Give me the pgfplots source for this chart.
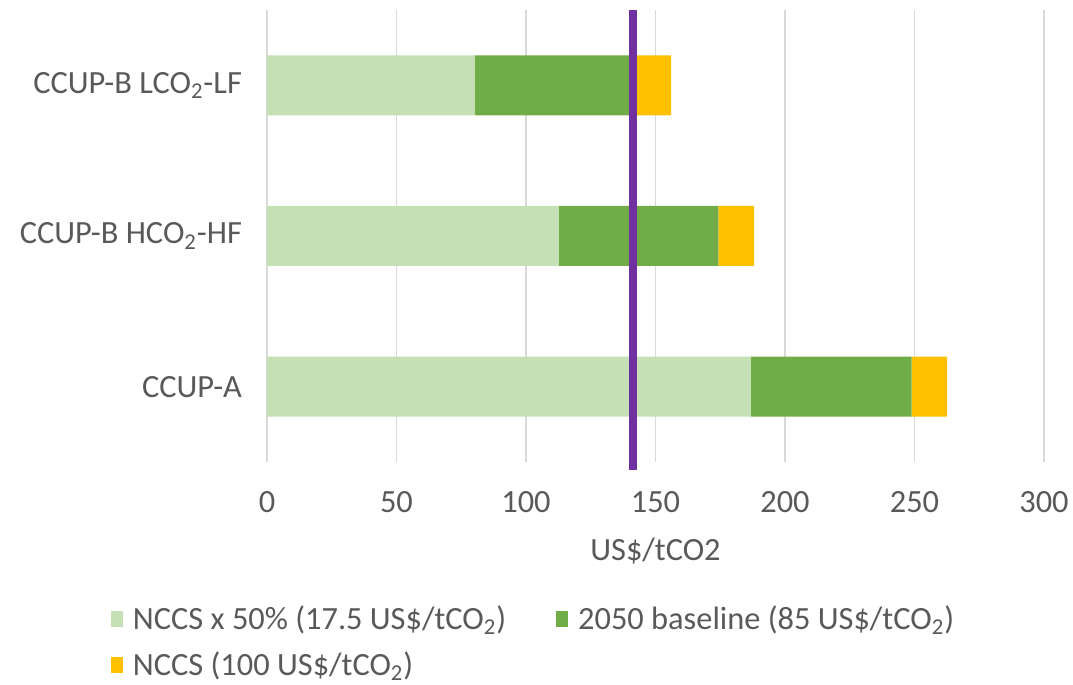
\documentclass[border=0pt]{standalone}
\usepackage{pgfplots}
\pgfplotsset{compat=1.18}
\usepackage{fontspec}
\setmainfont{Carlito}

\definecolor{lightgreen}{HTML}{C5E0B4}
\definecolor{darkgreen}{HTML}{70AD47}
\definecolor{nccsyellow}{HTML}{FFC000}
\definecolor{refpurple}{HTML}{7030A0}
\definecolor{gridgray}{HTML}{D9D9D9}
\definecolor{textgray}{HTML}{595959}

\newcommand{\chartfont}{\fontsize{16.2}{18}\selectfont}

\begin{document}
\begin{tikzpicture}[font=\chartfont, text=textgray]
\path[use as bounding box] (-133.5pt,-111.5pt) rectangle (403pt,231pt);
\begin{axis}[
  at={(0pt,0pt)}, anchor=south west,
  scale only axis,
  width=388.5pt, height=226pt,
  xbar stacked,
  bar width=30pt,
  xmin=0, xmax=300,
  ymin=-0.5, ymax=2.5,
  xtick={0,50,...,300},
  ytick={0,1,2},
  yticklabels={CCUP-A, CCUP-B HCO\textsubscript{2}-HF, CCUP-B LCO\textsubscript{2}-LF},
  axis line style={draw=none},
  major tick length=0pt,
  xmajorgrids,
  grid style={gridgray, line width=0.6pt},
  xticklabel style={font=\chartfont, text=textgray, yshift=-11pt},
  yticklabel style={font=\chartfont, text=textgray, xshift=-9pt},
  /pgf/number format/assume math mode=true,
  xlabel={US\$/tCO2},
  xlabel style={font=\chartfont, text=textgray, yshift=-6pt},
  clip=false,
  legend style={
    at={(-0.209,-0.30)}, anchor=north west,
    draw=none, fill=none,
    font=\chartfont, text=textgray,
    legend columns=2,
    /tikz/every even column/.append style={column sep=23pt},
    /tikz/every odd column/.append style={column sep=3pt},
    row sep=5.5pt,
    legend cell align=left,
  },
  legend image code/.code={\fill[#1] (0pt,-4pt) rectangle (6pt,4pt);},
]
\addplot+[draw=none, fill=lightgreen] coordinates {(186.7,0) (112.7,1) (80.3,2)};
\addlegendentry{NCCS x 50\% (17.5 US\$/tCO\textsubscript{2})}
\addplot+[draw=none, fill=darkgreen] coordinates {(62.2,0) (61.6,1) (61.4,2)};
\addlegendentry{2050 baseline (85 US\$/tCO\textsubscript{2})}
\addplot+[draw=none, fill=nccsyellow] coordinates {(13.7,0) (13.8,1) (14.3,2)};
\addlegendentry{NCCS (100 US\$/tCO\textsubscript{2})}
\end{axis}
\begin{axis}[
  at={(0pt,0pt)}, anchor=south west,
  scale only axis,
  width=388.5pt, height=226pt,
  xmin=0, xmax=300,
  ymin=-0.5, ymax=2.5,
  hide axis,
  clip=false,
]
\addplot[refpurple, line width=4pt, line cap=butt] coordinates {(141.4,-0.553) (141.4,2.5)};
\end{axis}
\end{tikzpicture}
\end{document}
